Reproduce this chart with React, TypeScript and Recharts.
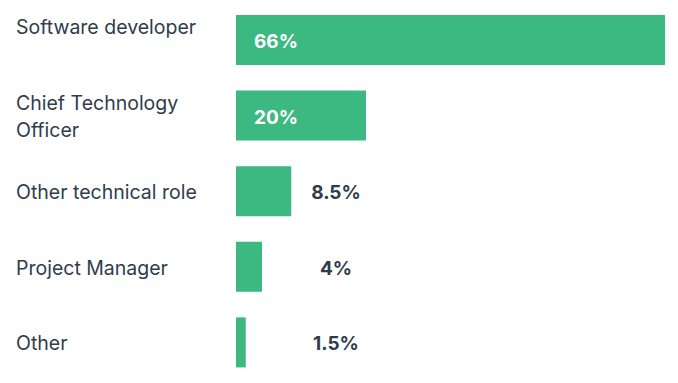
import React from "react";
import { BarChart, Bar, XAxis, YAxis, LabelList } from "recharts";

const categories = ["Software developer\n", "Chief Technology\nOfficer", "Other technical role", "Project Manager", "Other"];
const values = [66, 20, 8.5, 4, 1.5];
const valueLabels = ["66%", "20%", "8.5%", "4%", "1.5%"];

const data = categories.map((name, i) => ({ name, value: values[i], label: valueLabels[i] }));

const FONT = "Inter, 'Open Sans', sans-serif";
const GREEN = "#3cb881";
const TEXT = "#2f3c4c";

const CategoryTick = (props: any) => {
  const { y, payload } = props;
  const lines: string[] = String(payload.value).split("\n");
  const lh = 27;
  const start = y - ((lines.length - 1) * lh) / 2 + 1;
  return (
    <text x={16} y={start} fill={TEXT} fontFamily={FONT} fontSize={19.5} textAnchor="start" dominantBaseline="central">
      {lines.map((l, i) => (
        <tspan key={i} x={16} y={start + i * lh} dominantBaseline="central">
          {l}
        </tspan>
      ))}
    </text>
  );
};

const ValueLabel = (props: any) => {
  const { x, y, height, index } = props;
  const v = values[index];
  const inside = v >= 15;
  const cy = y + height / 2 + 1.5;
  if (inside) {
    return (
      <text x={x + 18} y={cy} fill="#ffffff" fontFamily={FONT} fontWeight={700} fontSize={19} dominantBaseline="central" textAnchor="start">
        {valueLabels[index]}
      </text>
    );
  }
  return (
    <text x={x + 100} y={cy} fill={TEXT} fontFamily={FONT} fontWeight={700} fontSize={19} dominantBaseline="central" textAnchor="middle">
      {valueLabels[index]}
    </text>
  );
};

export default function App() {
  return (
    <div style={{ position: "absolute", left: 0, top: 0, width: 678, height: 383, background: "#fff" }}>
      <BarChart
        width={678}
        height={383}
        data={data}
        layout="vertical"
        margin={{ top: 2, right: 13, bottom: 3, left: 0 }}
        barCategoryGap={"33.8%"}
      >
        <XAxis type="number" hide domain={[0, 66]} />
        <YAxis
          type="category"
          dataKey="name"
          width={236}
          axisLine={false}
          tickLine={false}
          tick={<CategoryTick />}
          interval={0}
        />
        <Bar dataKey="value" fill={GREEN} isAnimationActive={false} barSize={50}>
          <LabelList dataKey="value" content={<ValueLabel />} />
        </Bar>
      </BarChart>
    </div>
  );
}
